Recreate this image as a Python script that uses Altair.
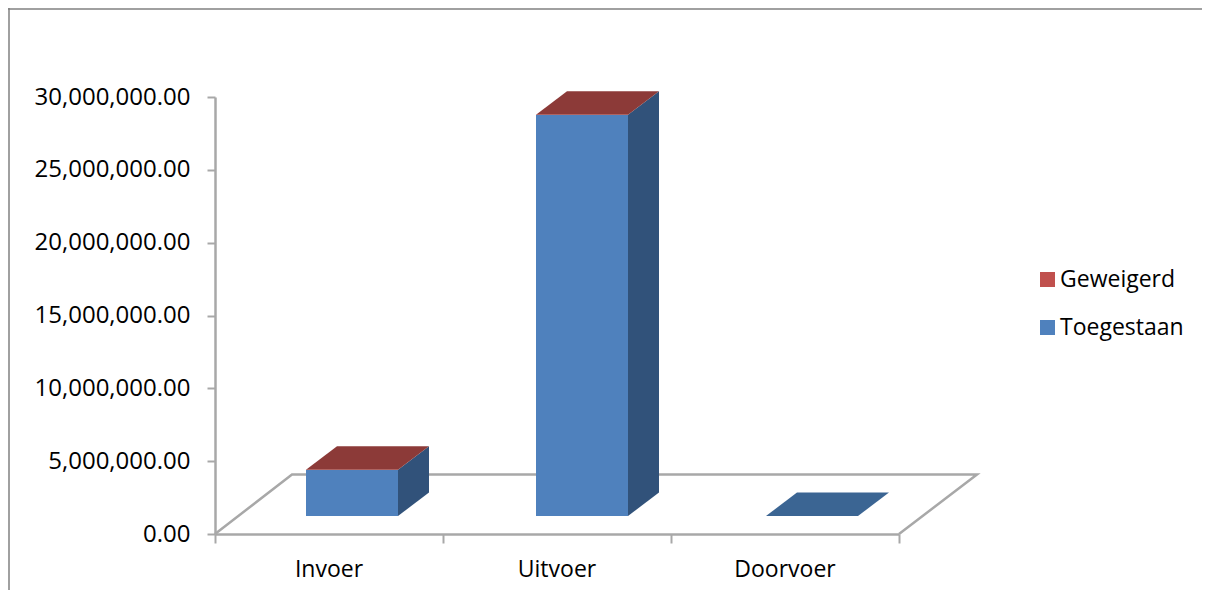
import altair as alt
import pandas as pd

categories = ["Invoer", "Uitvoer", "Doorvoer"]
toegestaan = [3160000, 27530000, 0]
geweigerd = [10000, 10000, 0]
y_ticks = [0, 5000000, 10000000, 15000000, 20000000, 25000000, 30000000]

FONT = "Open Sans"
FS = 23
FS_Y = 24
GREY = "#a8a8a8"
C_RED, C_BLUE = "#c0504d", "#4f81bd"
C_RED_TOP, C_BLUE_TOP, C_SIDE = "#8c3a38", "#3b6593", "#31527a"

W, H = 684, 437
PX = 3 / W            # data units per pixel, x
PY = 30000000 / H     # data units per pixel, y
BASE = 18 * PY        # bars stand on the floor, above the zero line
DX, DY = 31 * PX, 23.5 * PY
BAR_L, BAR_W, STEP = 91 * PX, 92 * PX, 230 * PX

xs = alt.Scale(domain=[0, 3], nice=False, zero=False)
ys = alt.Scale(domain=[0, 30000000], nice=False)

front, side, top = [], [], []
for i, c in enumerate(categories):
    x0 = i * STEP + BAR_L
    x1 = x0 + BAR_W
    t, g = toegestaan[i], geweigerd[i]
    yt = BASE + t
    yg = yt + g
    if t > 0:
        front.append(dict(x=x0, x2=x1, y=BASE, y2=yt, s="Toegestaan", c=c))
    if g > 0:
        front.append(dict(x=x0, x2=x1, y=yt, y2=yg, s="Geweigerd", c=c))
    if yg > BASE:
        side += [dict(x=x1, y=BASE, y2=yg, c=c), dict(x=x1 + DX, y=BASE + DY, y2=yg + DY, c=c)]
    kind = "red" if g > 0 else "blue"
    top += [
        dict(x=x0, y=yg, y2=yg, c=c, k=kind),
        dict(x=x0 + DX, y=yg, y2=yg + DY, c=c, k=kind),
        dict(x=x1, y=yg, y2=yg + DY, c=c, k=kind),
        dict(x=x1 + DX, y=yg + DY, y2=yg + DY, c=c, k=kind),
    ]
front, side, top = pd.DataFrame(front), pd.DataFrame(side), pd.DataFrame(top)

floor = pd.DataFrame({
    "x": [0, 77 * PX, 3 + 78 * PX, 3],
    "y": [0, 59.5 * PY, 59.5 * PY, 0],
    "o": [0, 1, 2, 3],
})

x_enc = alt.X("x:Q", scale=xs, axis=alt.Axis(
    values=[0, 1, 2, 3], labels=False, title=None, grid=False, domainColor=GREY,
    domainWidth=2.5, tickColor=GREY, tickWidth=2, tickSize=9))
y_enc = alt.Y("y:Q", scale=ys, axis=alt.Axis(
    values=y_ticks, format=",.2f", title=None, grid=False, domainColor=GREY, domainWidth=2.5,
    tickColor=GREY, tickWidth=2, tickSize=8, labelFont=FONT, labelFontSize=FS_Y,
    labelColor="#000000", labelPadding=17))

floor_l = alt.Chart(floor).mark_line(color=GREY, strokeWidth=2.5).encode(x=x_enc, y=y_enc, order="o:Q")

side_l = alt.Chart(side).mark_area(color=C_SIDE, orient="vertical", opacity=1).encode(
    x="x:Q", y="y:Q", y2="y2:Q", detail="c:N")

top_red = alt.Chart(top[top.k == "red"]).mark_area(color=C_RED_TOP, orient="vertical").encode(
    x="x:Q", y="y:Q", y2="y2:Q", detail="c:N")
top_blue = alt.Chart(top[top.k == "blue"]).mark_area(color=C_BLUE_TOP, orient="vertical").encode(
    x="x:Q", y="y:Q", y2="y2:Q", detail="c:N")

front_l = alt.Chart(front).mark_rect().encode(
    x="x:Q", x2="x2:Q", y="y:Q", y2="y2:Q",
    color=alt.Color("s:N",
        scale=alt.Scale(domain=["Geweigerd", "Toegestaan"], range=[C_RED, C_BLUE]),
        legend=alt.Legend(title=None, orient="none", legendX=821, legendY=171,
            symbolType="square", symbolSize=225, symbolStrokeWidth=0, symbolOpacity=1,
            labelFont=FONT, labelFontSize=FS, labelColor="#000000", labelOffset=1,
            rowPadding=24, labelLimit=300)))

labels = pd.DataFrame({"c": categories, "x": [i + 0.5 for i in range(3)]})
label_l = alt.Chart(labels).mark_text(font=FONT, fontSize=FS, color="#000000", baseline="middle").encode(
    x="x:Q", y=alt.value(H + 36), text="c:N")

border_top = alt.Chart(pd.DataFrame({"a": [0]})).mark_rule(color="#808080", strokeWidth=1.5).encode(
    x=alt.value(-207), x2=alt.value(W + 303), y=alt.value(-88))
border_left = alt.Chart(pd.DataFrame({"a": [0]})).mark_rule(color="#808080", strokeWidth=1.5).encode(
    x=alt.value(-206), y=alt.value(-89), y2=alt.value(H + 56))

chart = alt.layer(border_top, border_left, floor_l, side_l, top_red, top_blue, front_l, label_l).properties(
    width=W, height=H, padding={"left": 207, "top": 89, "right": 303, "bottom": 56},
    autosize=alt.AutoSizeParams(type="none"),
    background="white",
).configure_view(stroke=None)

chart.save("out.html", embed_options={"renderer": "svg", "actions": False})
